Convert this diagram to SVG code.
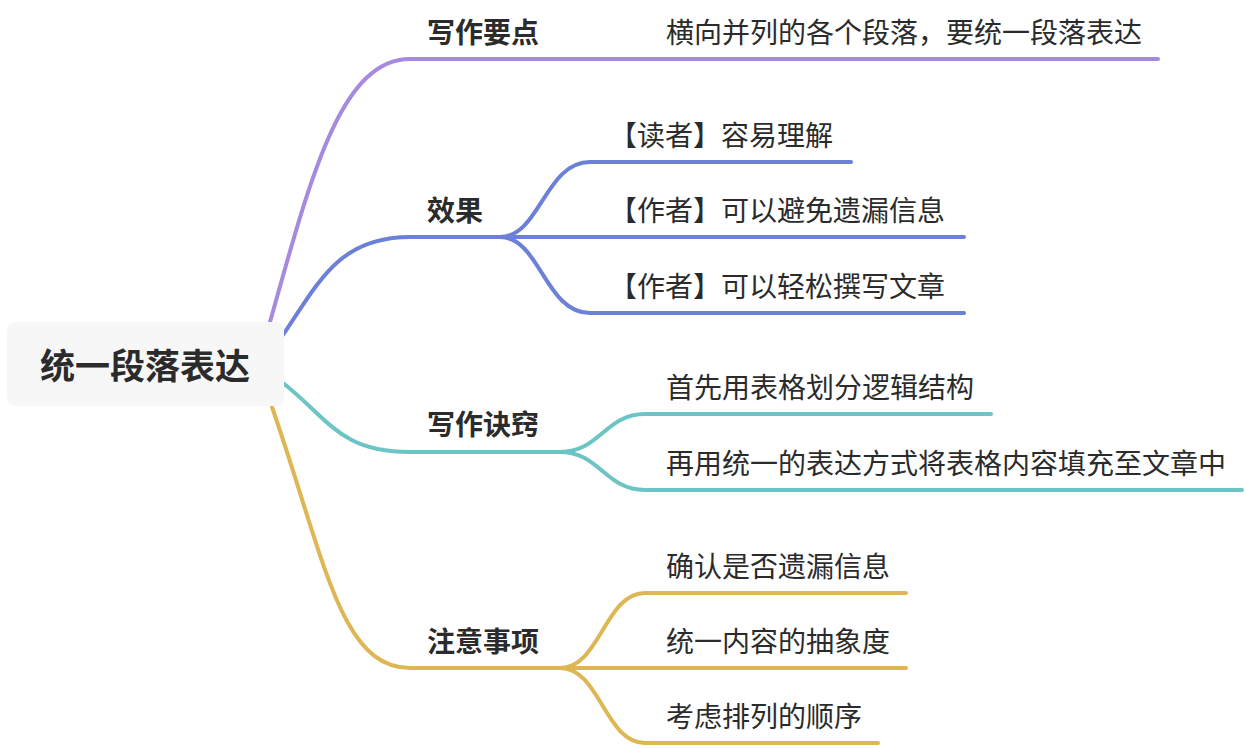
<svg xmlns="http://www.w3.org/2000/svg" width="1246" height="748" viewBox="0 0 1246 748">
<style>
text{font-family:"Noto Sans CJK SC","Noto Sans",sans-serif;fill:#2b2b2b}
.root{font-size:35px;font-weight:700}
.main{font-size:28px;font-weight:700}
.leaf{font-size:28px;font-weight:400}
.c{fill:none;stroke-width:4;stroke-linecap:round}
.p{stroke:#a68ae0}.b{stroke:#6c80d8}.t{stroke:#6dc4c4}.y{stroke:#deb754}
</style>
<rect width="1246" height="748" fill="#ffffff"/>
<g id="connectors">
<path class="c p" d="M270,322 C310,180 340,59 410,59 L1158,59"/>
<path class="c b" d="M283,335 C320,280 340,237 410,237 L964,237"/>
<path class="c b" d="M500,237 C540,237 545,162 590,162 L851,162"/>
<path class="c b" d="M500,237 C540,237 545,313 590,313 L964,313"/>
<path class="c t" d="M283,383 C330,420 340,452 410,452 L565,452"/>
<path class="c t" d="M560,452 C600,452 605,414 645,414 L991,414"/>
<path class="c t" d="M560,452 C600,452 605,490 645,490 L1242,490"/>
<path class="c y" d="M272,407 C325,560 340,668 410,668 L906,668"/>
<path class="c y" d="M560,668 C600,668 605,593 645,593 L906,593"/>
<path class="c y" d="M560,668 C600,668 605,743 645,743 L878,743"/>
</g>
<g id="root">
<rect x="7" y="322" width="277" height="84" rx="8" fill="#f7f7f7"/>
<text class="root" x="145" y="379" text-anchor="middle">统一段落表达</text>
</g>
<g id="n-writing-points"><text class="main" x="427" y="43">写作要点</text></g>
<g id="n-writing-points-1"><text class="leaf" x="666" y="43">横向并列的各个段落，要统一段落表达</text></g>
<g id="n-effect"><text class="main" x="427" y="221">效果</text></g>
<g id="n-effect-1"><text class="leaf" x="609" y="146">【读者】容易理解</text></g>
<g id="n-effect-2"><text class="leaf" x="609" y="221">【作者】可以避免遗漏信息</text></g>
<g id="n-effect-3"><text class="leaf" x="609" y="297">【作者】可以轻松撰写文章</text></g>
<g id="n-tips"><text class="main" x="427" y="435">写作诀窍</text></g>
<g id="n-tips-1"><text class="leaf" x="666" y="398">首先用表格划分逻辑结构</text></g>
<g id="n-tips-2"><text class="leaf" x="666" y="474">再用统一的表达方式将表格内容填充至文章中</text></g>
<g id="n-notes"><text class="main" x="427" y="652">注意事项</text></g>
<g id="n-notes-1"><text class="leaf" x="666" y="577">确认是否遗漏信息</text></g>
<g id="n-notes-2"><text class="leaf" x="666" y="652">统一内容的抽象度</text></g>
<g id="n-notes-3"><text class="leaf" x="666" y="727">考虑排列的顺序</text></g>
</svg>
